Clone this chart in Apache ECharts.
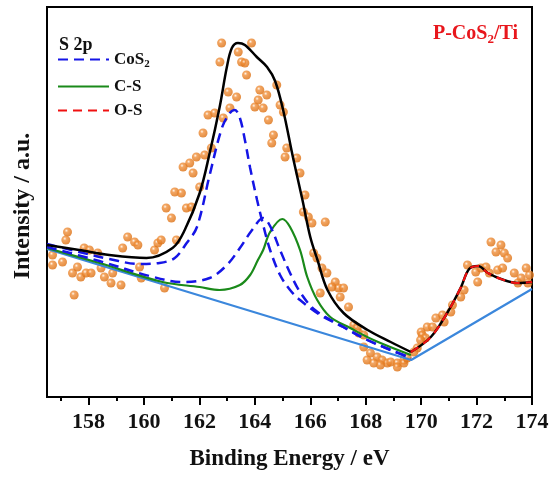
<!DOCTYPE html>
<html><head><meta charset="utf-8">
<script src="https://cdn.jsdelivr.net/npm/echarts@6/dist/echarts.min.js"></script>
<style>html,body{margin:0;padding:0;background:#fff}#c{width:553px;height:481px}</style>
</head><body><div id="c"></div>
<script>
// Tick labels
const xTicks = [158,160,162,164,166,168,170,172,174];
const xMinorTicks = [157,159,161,163,165,167,169,171,173];

// Raw XPS data points [binding energy, intensity (a.u.)]
const rawData = [
[157.24,165],[157.18,157],[156.70,142],[156.70,132],[157.06,135],[157.42,124],[157.60,130],[157.72,120],
[157.91,124],[158.09,124],[157.84,149],[158.03,147],[158.33,144],[158.45,129],[158.57,120],[158.81,114],
[158.87,124],[159.17,112],[159.23,149],[159.41,160],[159.66,155],[159.78,152],[159.84,130],[159.90,119],
[160.38,147],[160.50,154],[160.62,157],[160.74,109],[160.80,189],[160.99,179],[161.11,205],[161.17,157],
[157.48,102],
[162.80,354],[163.88,354],[163.40,345],[162.74,335],[163.52,335],[163.64,334],[163.70,322],[163.04,305],
[163.34,300],[164.18,307],[164.43,302],[164.12,297],[164.79,312],[164.00,290],[164.30,289],[164.91,292],
[165.03,285],[163.10,289],[162.31,282],[162.55,284],[162.86,279],[164.49,277],[162.13,264],[164.67,262],
[164.61,254],[162.43,249],[165.15,249],[165.09,240],[165.51,239],[161.41,230],[161.65,234],[161.89,240],
[162.19,242],[161.77,224],[165.63,224],[161.35,204],[162.01,210],[165.81,202],[161.53,189],[161.71,190],
[165.75,185],[165.93,180],[166.06,174],[166.54,175],
[166.12,144],[166.24,139],[166.42,129],[166.60,124],[166.90,115],[167.02,109],[167.20,109],[166.78,110],
[167.08,100],[166.36,104],[167.38,90],[167.57,72],[167.69,69],[167.75,64],[167.93,62],[167.93,50],
[168.17,44],[168.41,40],[168.59,37],[168.78,34],[168.05,37],[168.29,34],[168.53,32],[168.90,35],
[169.14,34],[169.38,37],[170.00,65],[170.22,70],
[172.52,155],[172.88,152],[172.70,145],[173.00,144],[173.12,139],[171.67,132],[171.97,125],[172.16,129],
[172.34,130],[172.46,124],[172.76,127],[172.94,129],[172.04,115],[173.36,124],[173.61,119],[173.79,129],
[173.91,122],[173.49,114],[173.85,114],[171.55,107],[171.43,100],[171.13,92],[171.07,85],[170.77,82],
[170.53,79],[170.83,75],[170.41,70],[170.04,62],[170.16,59],[169.98,57],[169.86,49],[169.74,45],
[169.14,30],[169.38,34],[169.50,39]
];

// Background (linear)
const background = [[156.5,148],[169.64,37],[174,108]];

// Total envelope, left part and right part
const envelopeLeft = [
[156.5,152],[157.66,147],[158.75,142],[160.09,139],[161.03,149],[161.47,167],[162.01,204],[162.37,244],
[162.73,290],[162.99,330],[163.17,349],[163.39,354],[163.64,352],[164.07,340],[164.44,330],[164.73,316],
[165.02,287],[165.38,239],[165.71,198],[166.00,160],[166.26,137],[166.62,107],[167.20,84],[168.07,67],
[168.90,55],[169.63,45]
];
const envelopeRight = [
[169.63,45],[170.35,60],[170.96,85],[171.44,110],[171.73,128],[172.05,131],[172.41,124],[172.88,118],
[173.50,114],[174,115]
];

// CoS2 2p3/2
const cos2A = [
[156.5,153],[157.66,145],[158.75,138],[159.84,133],[160.56,134],[161.11,139],[161.54,154],[161.91,170],
[162.37,222],[162.81,269],[163.10,284],[163.28,287],[163.46,279],[163.64,257],[163.83,229],[164.08,197],
[164.30,172],[164.55,147],[164.91,122],[165.27,107],[165.63,97],[166.36,82],[167.19,70],[168.06,57],
[168.90,47],[169.63,39]
];
// CoS2 2p1/2
const cos2B = [
[156.5,150],[158.39,136],[160.20,121],[161.40,115],[162.37,119],[162.99,132],[163.46,149],[163.90,167],
[164.30,179],[164.55,171],[164.91,147],[165.27,124],[165.63,105],[166.17,87],[167.19,70],[168.06,57],
[168.90,47],[169.63,39]
];
// C-S
const cs = [
[156.5,149],[158.39,134],[160.67,115],[162.01,110],[162.73,107],[163.46,112],[163.83,122],[164.11,137],
[164.30,147],[164.55,165],[164.99,178],[165.27,170],[165.63,147],[165.89,120],[166.25,97],[166.72,80],
[167.44,69],[168.28,57],[169.63,42]
];
// O-S
const os = [
[169.63,45],[170.35,60],[170.96,85],[171.44,110],[171.73,128],[172.05,131],[172.41,124],[172.88,118],
[173.50,114],[174,115]
];

const FONT = '"Liberation Serif","Times New Roman",serif';
const chart = echarts.init(document.getElementById('c'));
const ball = {type:'radial', x:0.38, y:0.35, r:0.65, colorStops:[
  {offset:0,color:'#fff6ea'},{offset:0.3,color:'#f0903c'},{offset:1,color:'#dc7012'}]};
const legendBase = {left:52, itemWidth:51, itemHeight:14, itemGap:3, padding:[5,5,5,5],
  itemStyle:{opacity:0},
  textStyle:{fontFamily:FONT, fontWeight:'bold', fontSize:17, color:'#111',
    rich:{s:{fontFamily:FONT, fontWeight:'bold', fontSize:11, color:'#111', padding:[9,0,0,0]}}},
  formatter: n => n === 'CoS2' ? 'CoS{s|2}' : n};
chart.setOption({
  animation:false,
  backgroundColor:'#fff',
  grid:{left:47, right:21, top:7, bottom:84, show:true, borderColor:'#000', borderWidth:2},
  title:[
    {text:'S 2p', left:59, top:36, padding:0, textStyle:{fontFamily:FONT, fontWeight:'bold', fontSize:18, color:'#111'}},
    {text:'P-CoS{s|2}/Ti', right:35, top:22, padding:0, textStyle:{fontFamily:FONT, fontWeight:'bold', fontSize:20, color:'#e8161c',
      rich:{s:{fontFamily:FONT, fontWeight:'bold', fontSize:13, color:'#e8161c', padding:[11,0,0,0]}}}}
  ],
  legend:[
    Object.assign({}, legendBase, {top:46, data:['CoS2']}),
    Object.assign({}, legendBase, {top:73, data:['C-S']}),
    Object.assign({}, legendBase, {top:97, data:['O-S']})
  ],
  xAxis:[{
    type:'value', min:156.5, max:174, position:'bottom',
    name:'Binding Energy / eV', nameLocation:'middle', nameGap:51,
    nameTextStyle:{fontFamily:FONT, fontWeight:'bold', fontSize:23, color:'#111'},
    axisLine:{show:true, lineStyle:{color:'#000', width:2}},
    axisTick:{show:true, customValues:xTicks, length:8, inside:false, lineStyle:{color:'#000', width:2}},
    axisLabel:{customValues:xTicks, margin:14, fontFamily:FONT, fontWeight:'bold', fontSize:22, color:'#111',
      showMinLabel:true, showMaxLabel:true},
    splitLine:{show:false}
  },{
    type:'value', min:156.5, max:174, position:'bottom',
    axisLine:{show:false},
    axisTick:{show:true, customValues:xMinorTicks, length:4, lineStyle:{color:'#000', width:2}},
    axisLabel:{show:false}, splitLine:{show:false}
  }],
  yAxis:{
    type:'value', min:0, max:390,
    name:'Intensity / a.u.', nameLocation:'middle', nameGap:12,
    nameTextStyle:{fontFamily:FONT, fontWeight:'bold', fontSize:24, color:'#111', padding:[0,8,0,0]},
    axisLine:{show:true, lineStyle:{color:'#000', width:2}},
    axisTick:{show:false}, axisLabel:{show:false}, splitLine:{show:false}
  },
  series:[
    {type:'scatter', name:'data', data:rawData, symbolSize:9, z:1,
      itemStyle:{color:ball}},
    {type:'line', name:'bg', data:background, symbol:'none', z:2,
      lineStyle:{color:'#3b87dc', width:2.2}},
    {type:'line', name:'C-S', data:cs, symbol:'none', smooth:0.35, z:3,
      lineStyle:{color:'#1a8a1a', width:2.2}, itemStyle:{color:'#1a8a1a'}},
    {type:'line', name:'CoS2', data:cos2B, symbol:'none', smooth:0.35, z:4,
      lineStyle:{color:'#1515e6', width:2.5, type:[10,6]}, itemStyle:{color:'#1515e6'}},
    {type:'line', name:'CoS2', data:cos2A, symbol:'none', smooth:0.35, z:4,
      lineStyle:{color:'#1515e6', width:2.5, type:[10,6]}, itemStyle:{color:'#1515e6'}},
    {type:'line', name:'total', data:envelopeLeft, symbol:'none', smooth:0.35, z:5,
      lineStyle:{color:'#000', width:2.5}},
    {type:'line', name:'total2', data:envelopeRight, symbol:'none', smooth:0.35, z:5,
      lineStyle:{color:'#000', width:2.5}},
    {type:'line', name:'O-S', data:os, symbol:'none', smooth:0.35, z:6,
      lineStyle:{color:'#f01010', width:2.2, type:[9,6]}, itemStyle:{color:'#f01010'}}
  ]
});
</script></body></html>
